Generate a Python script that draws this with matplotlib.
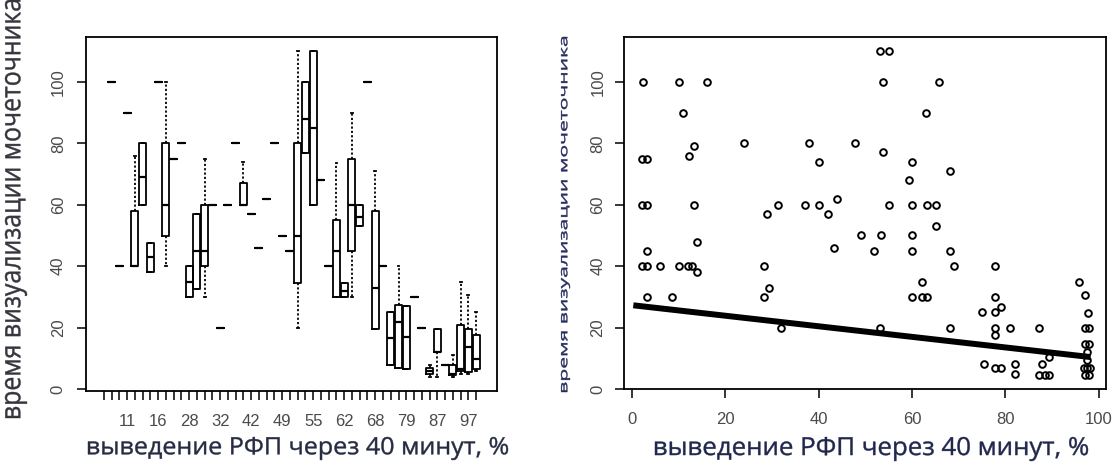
import numpy as np
import matplotlib
matplotlib.use("Agg")
import matplotlib.pyplot as plt
from matplotlib.textpath import TextPath
from matplotlib.font_manager import FontProperties
from matplotlib.patches import PathPatch
from matplotlib.transforms import Affine2D

W, H = 1113, 467

# --- left panel: boxplots per group of "выведение" value ---
categories = ["2", "3", "6", "11", "12", "13", "14", "16", "20", "23",
              "24", "28", "29", "30", "31", "32", "37", "38", "40", "42",
              "43", "44", "48", "49", "50", "53", "54", "55", "56", "58",
              "60", "62", "63", "64", "66", "68", "69", "75", "78", "79",
              "80", "81", "82", "87", "88", "89", "96", "97", "98"]

# (lower whisker, q1, median, q3, upper whisker); None = nothing drawn
group_stats = [
    None, (100,) * 5, (40,) * 5, (90,) * 5, (40, 40, 40, 58, 76),
    (60, 60, 69, 80, 80), (38, 38, 43, 47.5, 47.5), (100,) * 5,
    (40, 50, 60, 80, 100), (75,) * 5,
    (80,) * 5, (30, 30, 35, 40, 40), (32.5, 32.5, 45, 57, 57),
    (30, 40, 45, 60, 75), (60,) * 5, (20,) * 5, (60,) * 5, (80,) * 5,
    (60, 60, 60, 67, 74), (57,) * 5,
    (46,) * 5, (62,) * 5, (80,) * 5, (50,) * 5, (45,) * 5,
    (20, 34.5, 50, 80, 110), (77, 77, 88, 100, 100), (60, 60, 85, 110, 110),
    (68,) * 5, (40,) * 5,
    (30, 30, 45, 55, 73.6), (30, 30, 32, 34.5, 34.5), (30, 45, 60, 75, 90),
    (53, 53, 56, 60, 60), (100,) * 5, (19.5, 19.5, 33, 58, 71), (40,) * 5,
    (8, 8, 16.5, 25, 25), (7, 7, 22, 27.5, 40), (6.5, 6.5, 17, 27, 27),
    (30,) * 5, (20,) * 5, (4, 5, 6, 7, 8), (4, 12, 12, 19.5, 19.5),
    (8,) * 5, (4, 4.5, 5, 8, 11), (5, 6, 6.5, 21, 35),
    (5, 5.5, 13.7, 19.5, 30.6), (6, 6.5, 9.8, 17.5, 25),
]

# --- right panel: scatter + fitted line ---
excretion = [2.3, 10.1, 16.1, 11, 2.2, 3.2, 13.2, 12.2, 24.1, 38, 40,
             2.2, 3.2, 13.2, 31.2, 29, 37.1, 40, 42.1, 43.9,
             53.2, 55, 53.9, 65.9, 63.1, 47.9, 53.9, 60, 68.2, 59.3,
             55, 60, 63.2, 65.1, 65.2,
             3.3, 13.9, 2.1, 3.3, 6, 10.1, 12.1, 12.8, 13.9, 3.3, 8.5,
             28.2, 28.2, 29.3, 31.9, 43.2,
             49.1, 53.4, 60, 51.8, 60, 68.2, 69.1, 77.9,
             62.2, 60, 62.2, 63.2, 77.9, 79.1, 77.9, 75,
             53.2, 68.2, 77.9, 77.9, 81.1, 87.2,
             95.8, 97.2, 97.7, 97.2, 97.9, 97.2, 97.9, 97.6, 97.6,
             96.8, 97.6, 98.1, 97.2, 97.9,
             75.4, 77.8, 79.2, 82, 82, 87.9, 89.3, 87.2, 88.5, 89.3]
vis_time = [100, 100, 100, 90, 75, 75, 79, 76, 80, 80, 74,
            60, 60, 60, 60, 57, 60, 60, 57, 62,
            110, 110, 100, 100, 90, 80, 77, 74, 71, 68,
            60, 60, 60, 60, 53,
            45, 47.8, 40, 40, 40, 40, 40, 40, 38, 30, 30,
            40, 30, 32.8, 20, 46,
            50, 50, 50, 45, 45, 45, 40, 40,
            34.7, 30, 30, 30, 30, 26.8, 25, 25,
            20, 20, 20, 17.6, 20, 20,
            34.7, 30.6, 24.9, 20, 20, 14.7, 14.7, 12.2, 9.4,
            6.7, 6.7, 6.7, 4.6, 4.6,
            8, 6.7, 6.7, 8, 4.9, 8, 10.5, 4.6, 4.6, 4.6]
fit_intercept = 27.3
fit_slope = -0.172
fit_range = [0.3, 98.3]

xlabel = "выведение РФП через 40 минут, %"
ylabel = "время визуализации мочеточника"


def pixel_text(fig, s, x0, y0, x1, y1, color, vertical=False):
    # draw text so that its ink fills the given pixel box (top-left origin)
    tp = TextPath((0, 0), s, size=50, prop=FontProperties(family="Open Sans"))
    bb = tp.get_extents()
    t = Affine2D().translate(-bb.x0, -bb.y0)
    if vertical:
        t = t.scale((y1 - y0) / bb.width, (x1 - x0) / bb.height)
        t = t.rotate_deg(90).translate(x1, H - y1)
    else:
        t = t.scale((x1 - x0) / bb.width, (y1 - y0) / bb.height)
        t = t.translate(x0, H - y1)
    t = t + Affine2D().scale(1.0 / W, 1.0 / H) + fig.transFigure
    fig.add_artist(PathPatch(tp, transform=t, fc=color, ec=color, lw=0.3))


def px_axes(fig, x0, y0, x1, y1):
    return fig.add_axes([x0 / W, 1 - y1 / H, (x1 - x0) / W, (y1 - y0) / H])


def style(ax, xpad, ypad):
    for sp in ax.spines.values():
        sp.set_linewidth(1.3)
    ax.tick_params(direction="out", length=6.5, width=1.1, color="black",
                   labelsize=12, labelcolor="#4a4a4a")
    ax.tick_params(axis="x", pad=xpad)
    ax.tick_params(axis="y", pad=ypad, labelrotation=90)
    for lab in ax.get_yticklabels():
        lab.set_va("center")
    for lab in ax.get_xticklabels() + ax.get_yticklabels():
        lab.set_family("Liberation Sans")


def __main():
    fig = plt.figure(figsize=(W / 100, H / 100), dpi=100)

    # left: boxplots
    ax1 = px_axes(fig, 86, 37, 497, 391)
    stats, pos = [], []
    for i, g in enumerate(group_stats):
        if g is None:
            continue
        lo, q1, med, q3, hi = g
        stats.append(dict(whislo=lo, q1=q1, med=med, q3=q3, whishi=hi))
        pos.append(i)
    ax1.bxp(stats, positions=pos, widths=0.9, showfliers=False,
            capwidths=0.25, manage_ticks=False,
            boxprops=dict(color="black", linewidth=1.3),
            medianprops=dict(color="black", linewidth=1.6),
            whiskerprops=dict(color="black", linewidth=1.3,
                              linestyle=(0, (1.2, 1.2))),
            capprops=dict(color="black", linewidth=1.3))
    ax1.set_xlim(-2.3, 50.7)
    ax1.set_ylim(-0.6, 114.6)
    ax1.set_xticks(range(len(categories)))
    ax1.set_xticklabels([c if i % 4 == 3 else "" for i, c in enumerate(categories)])
    ax1.set_yticks([0, 20, 40, 60, 80, 100])
    style(ax1, 10, 8)

    # right: scatter with regression line
    ax2 = px_axes(fig, 624, 37, 1106, 389)
    ax2.plot(excretion, vis_time, "o", ms=4.8, mfc="none", mec="black", mew=1.4)
    xs = np.array(fit_range)
    ax2.plot(xs, fit_intercept + fit_slope * xs, color="black", lw=4.3,
             solid_capstyle="butt")
    ax2.set_xlim(-1.7, 101.6)
    ax2.set_ylim(0, 114.6)
    ax2.set_xticks([0, 20, 40, 60, 80, 100])
    ax2.set_yticks([0, 20, 40, 60, 80, 100])
    style(ax2, 10, 7)

    # axis titles (pasted-in style text)
    pixel_text(fig, xlabel, 88, 437, 508, 460, "#262b42")
    pixel_text(fig, xlabel, 655, 437, 1088, 461, "#20274c")
    pixel_text(fig, ylabel, 5, 0, 27, 418, "#35353d", vertical=True)
    pixel_text(fig, ylabel, 561, 37, 570, 392, "#262c5c", vertical=True)

    fig.savefig("out.png", dpi=100)


if __name__ == "__main__":
    __main()
